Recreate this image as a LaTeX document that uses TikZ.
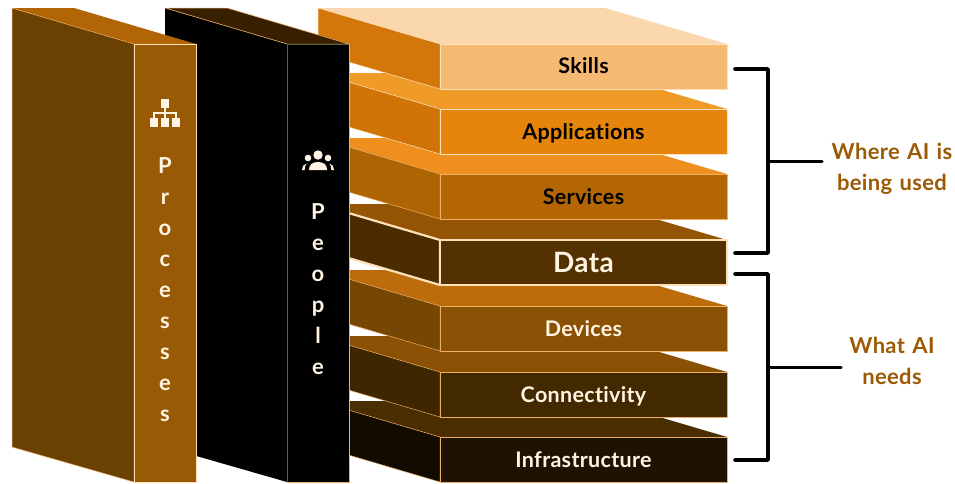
\documentclass[tikz,border=0pt]{standalone}
\usepackage{fontspec}
\setmainfont{Lato}[LetterSpace=1.5,Ligatures=NoCommon,WordSpace=1.3]
\usepackage{tikz}
\usetikzlibrary{positioning}

\definecolor{edgelight}{HTML}{FFE0B8}
\definecolor{edgeorange}{HTML}{EDAE66}
\definecolor{creamtext}{HTML}{FFF4E3}
\definecolor{sidetext}{HTML}{9C5A05}

\tikzset{
	face/.style={line width=0.5pt, line join=round},
	layerfront/.style={face, minimum width=287pt, minimum height=45pt, inner sep=0pt, text depth=3.6pt},
	wordcolumn/.style={align=center, inner sep=0pt, text=creamtext, font=\fontsize{22}{31}\selectfont\bfseries},
	bracket/.style={line width=3.6pt, line join=round, line cap=round},
	sidelabel/.style={align=center, inner sep=0pt, text=sidetext, font=\fontsize{22}{31}\selectfont\bfseries},
	icon/.style={fill=creamtext, draw=none}
}

\begin{document}
\begin{tikzpicture}[x=1pt,y=-1pt]
		\useasboundingbox (0,0) rectangle (955,483);
		% layers, lowest first so that each one covers the top of the next
		\foreach \name/\lab/\ypos/\topc/\frontc/\sidec/\txt/\edgec/\lw/\fs/\th in {
			infrastructure/Infrastructure/437/4A2D00/201200/130B00/creamtext/edgeorange/0.5/21.5/19.5,
			connectivity/Connectivity/372/8A5003/432900/3D2600/creamtext/edgeorange/0.5/21.5/19.5,
			devices/Devices/306/BD6C0B/8A5003/764603/creamtext/edgeorange/0.5/21.5/19.5,
			data/Data/240/935403/543100/4A2C00/creamtext/edgelight/2.2/28/23.5,
			services/Services/174/EF8F1E/B46504/AF6404/black/edgeorange/0.5/21.5/19.5,
			applications/Applications/109/F09A28/E6850C/D07408/black/edgelight/0.5/21.5/19.5,
			skills/Skills/44/FAD7AC/F5B971/D4770B/black/edgelight/0.5/21.5/18.5}
		{
			\definecolor{topc}{HTML}{\topc}
			\definecolor{frontc}{HTML}{\frontc}
			\definecolor{sidec}{HTML}{\sidec}
			\fill[topc] (318,\ypos-36) -- (605,\ypos-36) -- (727,\ypos) -- (440,\ypos) -- cycle;
			\draw[face, fill=sidec, draw=\edgec, line width=\lw pt] (318,\ypos-36) -- (440,\ypos) -- (440,\ypos+45) -- (318,\ypos+9) -- cycle;
			\node[layerfront, fill=frontc, draw=\edgec, text=\txt, line width=\lw pt, text height=\th pt, font=\fontsize{\fs}{24}\selectfont\bfseries] (\name) at (583.5,\ypos+22.5) {\lab};
		}

		% people
		\definecolor{peopletop}{HTML}{371F00}
		\draw[face, fill=peopletop, draw=edgeorange] (165,8) -- (227,8) -- (349,44) -- (287,44) -- cycle;
		\fill[black] (165,8) -- (287,44) -- (287,482) -- (165,447) -- cycle;
		\draw[fill=black, draw=edgelight!40!black, line width=0.8pt] (287,44) rectangle (349,482);
		\draw[edgeorange, line width=0.5pt] (165,8) -- (287,44);
		\draw[edgeorange, line width=0.5pt] (349,44) -- (349,482) -- (287,482);
		\node[wordcolumn] (people) at (318,289) {P\\e\\o\\p\\l\\e};

		% processes
		\definecolor{processtop}{HTML}{B26504}
		\definecolor{processside}{HTML}{6B4103}
		\definecolor{processfront}{HTML}{995A05}
		\fill[processtop] (12,8) -- (74,8) -- (196,44) -- (134,44) -- cycle;
		\draw[face, fill=processside, draw=edgeorange] (12,8) -- (134,44) -- (134,482) -- (12,447) -- cycle;
		\draw[face, fill=processfront, draw=edgelight] (134,44) rectangle (196,482);
		\node[wordcolumn] (processes) at (165,290) {P\\r\\o\\c\\e\\s\\s\\e\\s};

		% icons
		\foreach \ix/\iy in {161/99, 150/118, 161/118, 172/118}
			\fill[icon] (\ix,\iy) rectangle (\ix+8,\iy+8.5);
		\draw[creamtext, line width=1.2pt] (165,107) -- (165,118) (154,118) -- (154,113) -- (176,113) -- (176,118);
		\fill[icon] (318,155) circle [radius=4.7];
		\fill[icon] (308,158) circle [radius=3.3];
		\fill[icon] (328,158) circle [radius=3.3];
		\fill[icon] (309,170) .. controls (309,165) and (312,162) .. (318,162) .. controls (324,162) and (327,165) .. (327,170) -- cycle;
		\fill[icon] (302,170) .. controls (302,167) and (303.5,164) .. (306.5,163.5) .. controls (305.5,165) and (304.8,167) .. (304.6,170) -- cycle;
		\fill[icon] (334,170) .. controls (334,167) and (332.5,164) .. (329.5,163.5) .. controls (330.5,165) and (331.2,167) .. (331.4,170) -- cycle;

		% brackets
		\coordinate (usedtop) at (735,69);
		\coordinate (usedspine) at (768,161);
		\coordinate (usedbottom) at (735,253);
		\coordinate (usedstem) at (822,161);
		\coordinate (needstop) at (735,274);
		\coordinate (needsspine) at (768,367);
		\coordinate (needsbottom) at (735,460);
		\coordinate (needsstem) at (841,367);
		\draw[bracket] (usedtop) -| (usedspine) |- (usedbottom);
		\draw[bracket, line width=3pt] (usedspine) -- (usedstem);
		\draw[bracket] (needstop) -| (needsspine) |- (needsbottom);
		\draw[bracket, line width=3pt] (needsspine) -- (needsstem);

		\node[sidelabel] (usedlabel) at (892,169) {Where AI is\\being used};
		\node[sidelabel] (needslabel) at (892,361) {What AI\\needs};
\end{tikzpicture}
\end{document}
